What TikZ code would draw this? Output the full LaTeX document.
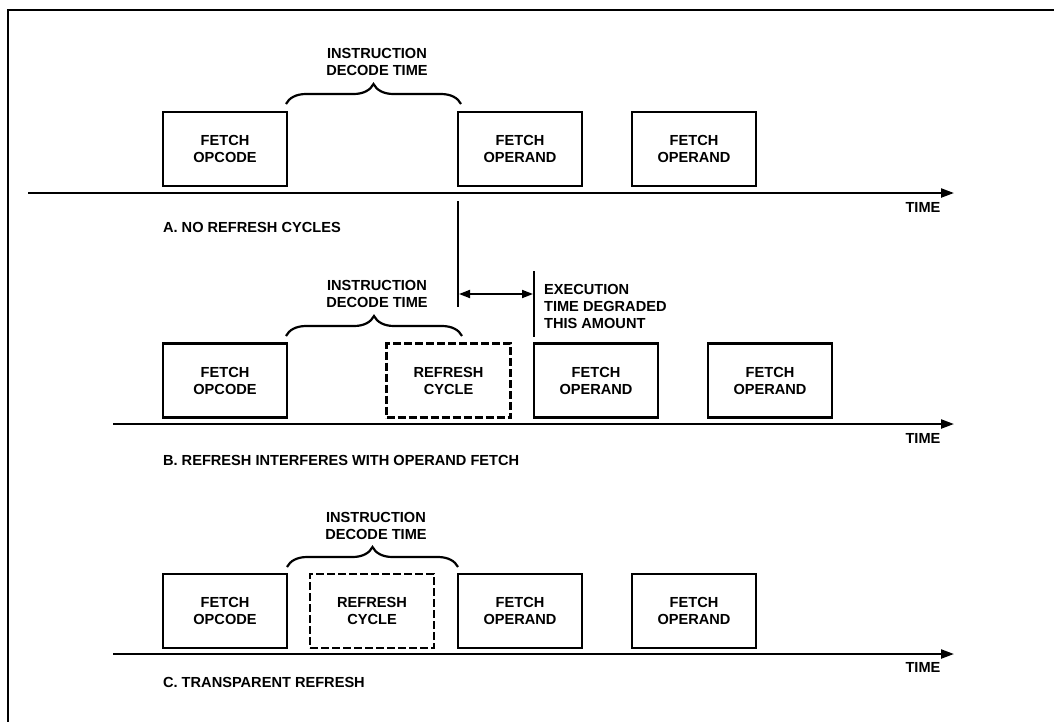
\documentclass[tikz,border=0pt]{standalone}
\usepackage{fontspec}
\setmainfont{Liberation Sans}
\usetikzlibrary{arrows.meta,decorations.pathreplacing}
\begin{document}
\begin{tikzpicture}[x=1pt,y=-1pt,
  line width=2.2pt,
  txt/.style={font=\bfseries\fontsize{14.6}{17}\selectfont, align=center, inner sep=0pt},
  cyclebox/.style={draw, minimum width=124pt, minimum height=74pt, txt},
  refreshbox/.style={cyclebox, dash pattern=on 8pt off 3pt},
  timeaxis/.style={-{Triangle[length=13pt,width=9pt]}},
  bracket/.style={decorate, decoration={brace, amplitude=20pt}, line width=2.2pt},
  gap/.style={{Triangle[length=11pt,width=8pt]}-{Triangle[length=11pt,width=8pt]}, line width=1.8pt},
  rowlabel/.style={txt, anchor=west, align=left},
  axislabel/.style={txt}
]
\useasboundingbox (0,0) rectangle (1054,721);

% frame (only the top and left edges fall inside the page)
\draw (8,740) -- (8,10) -- (1070,10);

% ---------------- A. no refresh cycles ----------------
\coordinate (axA0) at (28,193);
\coordinate (axA1) at (954,193);
\draw[timeaxis] (axA0) -- (axA1);
\node[axislabel] (timeA) at (923,207) {TIME};
\node[cyclebox] (a1) at (225,149) {FETCH\\OPCODE};
\node[cyclebox] (a2) at (520,149) {FETCH\\OPERAND};
\node[cyclebox] (a3) at (694,149) {FETCH\\OPERAND};
\coordinate (brA0) at (286,104);
\coordinate (brA1) at (461,104);
\draw[bracket] (brA0) -- (brA1);
\node[txt] (decA) at (377,61.5) {INSTRUCTION\\DECODE TIME};
\node[rowlabel] (labA) at (162,227) {A. NO REFRESH CYCLES};

% execution delay marker
\coordinate (vA0) at (458,201);
\coordinate (vA1) at (458,307);
\draw (vA0) -- (vA1);
\coordinate (vB0) at (534,271);
\coordinate (vB1) at (534,337);
\draw (vB0) -- (vB1);
\coordinate (gapL) at (459,294);
\coordinate (gapR) at (533,294);
\draw[gap] (gapL) -- (gapR);
\node[rowlabel] (exec) at (543,306) {EXECUTION\\TIME DEGRADED\\THIS AMOUNT};

% ---------------- B. refresh interferes ----------------
\coordinate (axB0) at (113,424);
\coordinate (axB1) at (954,424);
\draw[timeaxis] (axB0) -- (axB1);
\node[axislabel] (timeB) at (923,438) {TIME};
\node[cyclebox] (b1) at (225,380.5) {FETCH\\OPCODE};
\node[refreshbox] (b2) at (448.5,380.5) {REFRESH\\CYCLE};
\node[cyclebox] (b3) at (596,380.5) {FETCH\\OPERAND};
\node[cyclebox] (b4) at (770,380.5) {FETCH\\OPERAND};
\coordinate (brB0) at (286,336);
\coordinate (brB1) at (462,336);
\draw[bracket] (brB0) -- (brB1);
\node[txt] (decB) at (377,293.5) {INSTRUCTION\\DECODE TIME};
\node[rowlabel] (labB) at (162,460) {B. REFRESH INTERFERES WITH OPERAND FETCH};

% ---------------- C. transparent refresh ----------------
\coordinate (axC0) at (113,654);
\coordinate (axC1) at (954,654);
\draw[timeaxis] (axC0) -- (axC1);
\node[axislabel] (timeC) at (923,667) {TIME};
\node[cyclebox] (c1) at (225,611) {FETCH\\OPCODE};
\node[refreshbox] (c2) at (372,611) {REFRESH\\CYCLE};
\node[cyclebox] (c3) at (520,611) {FETCH\\OPERAND};
\node[cyclebox] (c4) at (694,611) {FETCH\\OPERAND};
\coordinate (brC0) at (287,567);
\coordinate (brC1) at (458,567);
\draw[bracket] (brC0) -- (brC1);
\node[txt] (decC) at (376,525.5) {INSTRUCTION\\DECODE TIME};
\node[rowlabel] (labC) at (162,682) {C. TRANSPARENT REFRESH};
\end{tikzpicture}
\end{document}
